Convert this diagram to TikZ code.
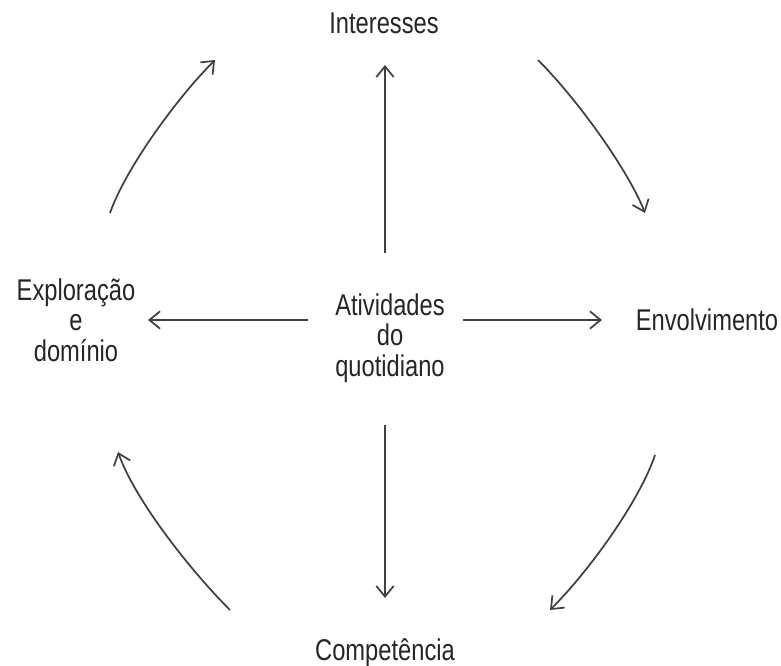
\documentclass[tikz,border=0pt]{standalone}
\usepackage{fontspec}
\setmainfont[FakeStretch=0.79]{Liberation Sans}
\usetikzlibrary{arrows.meta}
\begin{document}
\begin{tikzpicture}[x=0.75pt,y=-0.75pt,
  lbl/.style={inner sep=0pt,align=center,font=\fontsize{22.5pt}{23pt}\selectfont,text=black!85},
  conn/.style={draw=black!75,line width=1.3pt,-{Straight Barb[length=8pt,width=13pt,line width=1.3pt]}}]
\useasboundingbox (0,0) rectangle (781,666);
\node[lbl] (ctr) at (390,338) {Atividades\\do\\quotidiano};
\node[lbl,anchor=base] (int) at (384,34) {Interesses};
\node[lbl,anchor=base] (env) at (707,330) {Envolvimento};
\node[lbl] (exp) at (76,320) {Exploração\\e\\domínio};
\node[lbl,anchor=base] (comp) at (385,660) {Competência};
\coordinate (u0) at (385,253); \coordinate (u1) at (385,65);
\coordinate (l0) at (308,320); \coordinate (l1) at (148,320);
\coordinate (r0) at (463,320); \coordinate (r1) at (602,320);
\coordinate (d0) at (385,425); \coordinate (d1) at (385,598);
\draw[conn] (u0) -- (u1);
\draw[conn] (l0) -- (l1);
\draw[conn] (r0) -- (r1);
\draw[conn] (d0) -- (d1);
\coordinate (a0) at (538,60); \coordinate (a1) at (645,213);
\coordinate (b0) at (655,455); \coordinate (b1) at (550,610);
\coordinate (c0) at (230,610); \coordinate (c1) at (118,452);
\coordinate (e0) at (110,213); \coordinate (e1) at (215,60);
\draw[conn] (a0) .. controls (578,100) and (628,170) .. (a1);
\draw[conn] (b0) .. controls (640,500) and (590,570) .. (b1);
\draw[conn] (c0) .. controls (190,570) and (135,500) .. (c1);
\draw[conn] (e0) .. controls (125,170) and (175,100) .. (e1);
\end{tikzpicture}
\end{document}
